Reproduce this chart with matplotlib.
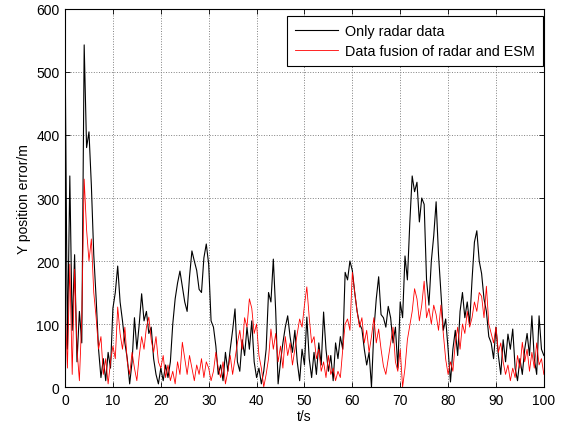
import numpy as np
import matplotlib
matplotlib.use("Agg")
import matplotlib.pyplot as plt

plt.rcParams['font.family'] = ['Liberation Sans', 'DejaVu Sans']

t_start, t_end, t_step = 0.0, 100.0, 0.5

radar = [
    555, 60, 335, 90, 210, 40, 120, 70, 543, 380,
    405, 320, 210, 140, 60, 15, 45, 10, 55, 30,
    125, 150, 192, 135, 105, 70, 45, 5, 40, 110,
    60, 100, 148, 105, 120, 85, 95, 45, 20, 5,
    30, 10, 35, 15, 40, 100, 140, 165, 184, 160,
    135, 120, 175, 216, 200, 185, 155, 150, 205, 227,
    195, 105, 95, 65, 20, 35, 10, 55, 25, 60,
    90, 124, 40, 25, 75, 50, 95, 60, 105, 40,
    15, 30, 5, 25, 60, 150, 135, 203, 120, 5,
    40, 70, 95, 113, 80, 55, 90, 40, 10, 60,
    35, 111, 45, 15, 55, 20, 70, 35, 119, 60,
    25, 50, 10, 70, 45, 80, 60, 182, 170, 200,
    185, 150, 120, 100, 92, 60, 35, 55, 0, 90,
    140, 175, 115, 110, 95, 128, 110, 70, 95, 30,
    135, 110, 208, 170, 260, 335, 310, 325, 262, 300,
    290, 170, 130, 200, 240, 294, 210, 150, 90, 108,
    60, 8, 60, 90, 50, 120, 150, 110, 135, 100,
    170, 230, 248, 200, 180, 140, 120, 80, 70, 45,
    95, 50, 20, 75, 40, 84, 60, 92, 30, 10,
    45, 20, 60, 85, 50, 113, 45, 20, 113, 60,
    50,
]

fusion = [
    140, 30, 195, 20, 187, 60, 10, 110, 330, 250,
    200, 235, 150, 110, 60, 80, 20, 45, 5, 40,
    65, 45, 127, 85, 60, 95, 40, 20, 55, 30,
    10, 50, 80, 60, 95, 111, 75, 55, 80, 40,
    30, 50, 15, 35, 10, 25, 5, 40, 20, 71,
    45, 20, 50, 30, 10, 35, 20, 45, 15, 40,
    30, 10, 25, 55, 30, 15, 40, 5, 25, 50,
    20, 45, 70, 90, 60, 110, 95, 140, 125, 85,
    100, 50, 30, 0, 20, 45, 92, 60, 85, 40,
    65, 30, 80, 50, 70, 35, 60, 85, 108, 95,
    130, 159, 110, 70, 80, 45, 60, 25, 40, 15,
    50, 20, 30, 10, 25, 15, 60, 100, 108, 90,
    182, 150, 120, 95, 110, 70, 90, 55, 80, 110,
    70, 92, 60, 33, 20, 45, 70, 95, 40, 25,
    60, 0, 30, 75, 97, 120, 156, 140, 105, 130,
    168, 110, 125, 100, 130, 115, 90, 130, 85, 44,
    20, 40, 25, 70, 95, 60, 100, 85, 120, 95,
    110, 135, 120, 150, 144, 110, 160, 100, 85, 70,
    95, 55, 70, 40, 20, 35, 10, 30, 15, 50,
    30, 71, 40, 60, 25, 55, 30, 70, 35, 45,
    20,
]

series_labels = ['Only radar data', 'Data fusion of radar and ESM']
xticks = [0, 10, 20, 30, 40, 50, 60, 70, 80, 90, 100]
yticks = [0, 100, 200, 300, 400, 500, 600]

t = np.arange(len(radar)) * t_step + t_start

fig = plt.figure(figsize=(5.63, 4.27), dpi=100)
ax = fig.add_axes([0.1155, 0.0913, 0.8505, 0.8853])

ax.plot(t, radar, color='black', lw=0.8, label=series_labels[0])
ax.plot(t, fusion, color='red', lw=0.6, label=series_labels[1])

ax.set_xlim(0, 100)
ax.set_ylim(0, 600)
ax.set_xticks(xticks)
ax.set_yticks(yticks)
ax.tick_params(direction='in', top=True, right=True, length=3.5, width=0.6,
               labelsize=10, colors='black', pad=4)
ax.grid(True, color='0.5', linestyle=':', linewidth=0.7)
for s in ax.spines.values():
    s.set_linewidth(0.8)
    s.set_color('black')

ax.set_xlabel('t/s', fontsize=10, labelpad=2)
ax.set_ylabel('Y position error/m', fontsize=10, labelpad=4)

leg = ax.legend(loc='upper right', bbox_to_anchor=(0.998, 0.982), borderaxespad=0,
                fancybox=False, edgecolor='black', framealpha=1, fontsize=10.4,
                handlelength=3.0, handletextpad=0.5, borderpad=0.55, labelspacing=0.42)
leg.get_frame().set_linewidth(0.8)

fig.savefig('out.png', dpi=100)
